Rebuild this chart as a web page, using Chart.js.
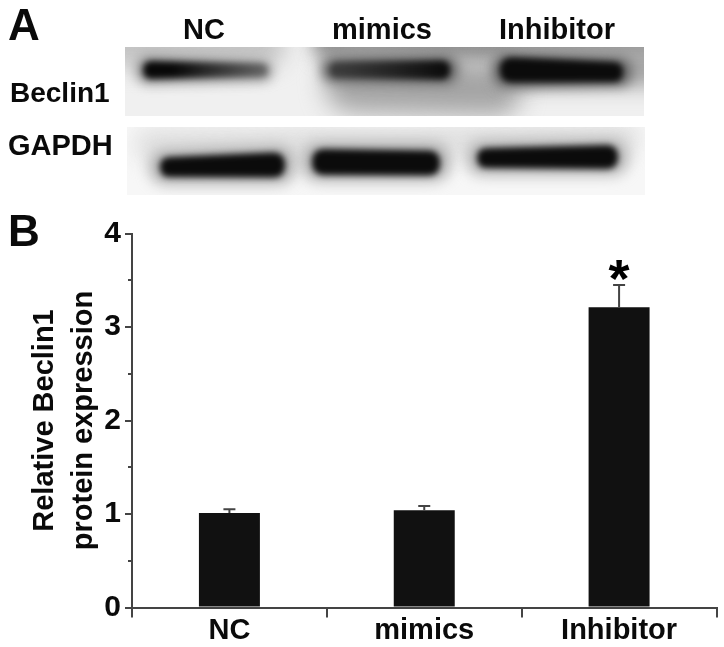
<!DOCTYPE html>
<html>
<head>
<meta charset="utf-8">
<title>Beclin1</title>
<script src="https://cdn.jsdelivr.net/npm/chart.js@4"></script>
<style>
body{margin:0;background:#fff;}
canvas{display:block;}
</style>
</head>
<body>
<canvas id="wykres" width="724" height="647"></canvas>
<script>
const categories = ["NC","mimics","Inhibitor"];
const expression = [1.01,1.04,3.21];
const errorTop = [1.05,1.085,3.45];
const significance = ["","","*"];
const yTickLabels = {0:"0",1:"1",2:"2",3:"3",4:"4"};
const yTitle = ["Relative Beclin1","protein expression"];
const blotLanes = ["NC","mimics","Inhibitor"];
const blotRows = ["Beclin1","GAPDH"];

const boldFont = "bold 29px 'Liberation Sans'";
const axisColor = "#444";

// soft blurred shape of the western blot, thickness changes from left to right
function band(ctx,x1,x2,yl,yr,hl,hr,fill,blur){
    ctx.save();
    ctx.filter = "blur("+blur+"px)";
    ctx.fillStyle = fill;
    ctx.beginPath();
    ctx.moveTo(x1+hl/2,yl-hl/2);
    ctx.lineTo(x2-hr/2,yr-hr/2);
    ctx.quadraticCurveTo(x2,yr-hr/2,x2,yr);
    ctx.quadraticCurveTo(x2,yr+hr/2,x2-hr/2,yr+hr/2);
    ctx.lineTo(x1+hl/2,yl+hl/2);
    ctx.quadraticCurveTo(x1,yl+hl/2,x1,yl);
    ctx.quadraticCurveTo(x1,yl-hl/2,x1+hl/2,yl-hl/2);
    ctx.fill();
    ctx.restore();
}

function fade(ctx,x1,x2,c1,c2,stop){
    const g = ctx.createLinearGradient(x1,0,x2,0);
    g.addColorStop(0,c1);
    g.addColorStop(stop,c1);
    g.addColorStop(1,c2);
    return g;
}

const blotPanel = {
    id:"blotPanel",
    beforeDraw(chart){
        const ctx = chart.ctx;
        ctx.save();
        ctx.fillStyle = "#fff";
        ctx.fillRect(0,0,724,647);

        // Beclin1 row
        ctx.save();
        ctx.beginPath();
        ctx.rect(125,47,519,69);
        ctx.clip();
        ctx.fillStyle = "#f0f0f0";
        ctx.fillRect(125,47,519,69);
        band(ctx,90,285,44,44,44,44,"#c2c2c2",11);
        band(ctx,312,680,38,38,48,48,"#8e8e8e",9);
        band(ctx,325,520,80,90,64,50,"#a4a4a4",12);
        band(ctx,500,680,66,66,42,42,"#a6a6a6",10);
        band(ctx,136,272,70,71,28,20,"#8f8f8f",6);
        band(ctx,322,458,70,70,24,28,"#666",6);
        band(ctx,492,632,71,72,34,28,"#666",6);
        band(ctx,143,267,70,70,18,12,fade(ctx,143,267,"#080808","#666",0.25),3);
        band(ctx,330,450,70,70,15,19,fade(ctx,330,450,"#3a3a3a","#0a0a0a",0.1),3);
        band(ctx,500,623,70,72,25,20,"#0b0b0b",3);
        ctx.restore();

        // GAPDH row
        ctx.save();
        ctx.beginPath();
        ctx.rect(127,127,518,68);
        ctx.clip();
        ctx.fillStyle = "#f7f7f7";
        ctx.fillRect(127,127,518,68);
        band(ctx,135,640,145,138,34,30,"#e0e0e0",10);
        band(ctx,150,295,167,165,34,38,"#ababab",7);
        band(ctx,302,450,162,162,38,38,"#ababab",7);
        band(ctx,467,628,158,157,34,36,"#b0b0b0",7);
        band(ctx,160,285,167,165,20,25,"#0b0b0b",3);
        band(ctx,312,440,162,163,26,25,"#0b0b0b",3);
        band(ctx,477,618,158,157,20,24,"#0b0b0b",3);
        ctx.restore();

        ctx.fillStyle = "#0a0a0a";
        ctx.font = "bold 44px 'Liberation Sans'";
        ctx.textAlign = "left";
        ctx.textBaseline = "alphabetic";
        ctx.fillText("A",8,40);
        ctx.fillText("B",8,246);

        ctx.font = boldFont;
        ctx.textAlign = "center";
        const laneX = [204,382,557];
        blotLanes.forEach((t,i)=>ctx.fillText(t,laneX[i],39));
        ctx.textAlign = "left";
        ctx.font = "bold 28px 'Liberation Sans'";
        ctx.fillText(blotRows[0],10,102);
        ctx.font = boldFont;
        ctx.fillText(blotRows[1],8,155);
        ctx.restore();
    },
    afterDatasetsDraw(chart){
        const ctx = chart.ctx;
        const x = chart.scales.x;
        const y = chart.scales.y;
        ctx.save();
        // short ticks at the half steps
        ctx.strokeStyle = axisColor;
        ctx.lineWidth = 2;
        y.ticks.forEach(t=>{
            if(Number.isInteger(t.value)) return;
            const py = Math.round(y.getPixelForValue(t.value));
            ctx.beginPath();
            ctx.moveTo(chart.chartArea.left-4,py);
            ctx.lineTo(chart.chartArea.left,py);
            ctx.stroke();
        });
        // error bars
        errorTop.forEach((v,i)=>{
            const px = x.getPixelForValue(i);
            const top = y.getPixelForValue(v);
            const base = y.getPixelForValue(expression[i]);
            ctx.beginPath();
            ctx.moveTo(px,base);
            ctx.lineTo(px,top);
            ctx.moveTo(px-6,top);
            ctx.lineTo(px+6,top);
            ctx.stroke();
            if(significance[i]){
                ctx.fillStyle = "#000";
                ctx.font = "bold 54px 'Liberation Sans'";
                ctx.textAlign = "center";
                ctx.textBaseline = "alphabetic";
                ctx.fillText(significance[i],px,top+12);
            }
        });
        ctx.restore();
    }
};

var wykresObiekt = document.getElementById("wykres").getContext("2d");
var wykres = new Chart(wykresObiekt,{
    type:"bar",
    data:{
        labels:categories,
        datasets:[{
            label:"Relative Beclin1 protein expression",
            data:expression,
            backgroundColor:"#111",
            barPercentage:0.313,
            categoryPercentage:1
        }]
    },
    options:{
        responsive:false,
        animation:false,
        layout:{padding:{top:233.5,right:7.5,bottom:0,left:0}},
        scales:{
            x:{
                afterFit(s){ s.height = 39.5; },
                grid:{drawOnChartArea:false,color:axisColor,lineWidth:2,tickLength:10},
                border:{color:axisColor,width:2},
                ticks:{color:"#0a0a0a",font:{family:"Liberation Sans",size:29,weight:"bold"},padding:-4,maxRotation:0}
            },
            y:{
                min:0,
                max:4,
                afterFit(s){ s.width = 132; },
                grid:{
                    drawOnChartArea:false,
                    tickLength:7,
                    lineWidth:2,
                    color:axisColor,
                    tickColor:c=>Number.isInteger(c.tick.value)?axisColor:"rgba(0,0,0,0)"
                },
                border:{color:axisColor,width:2},
                ticks:{
                    stepSize:0.5,
                    autoSkip:false,
                    color:"#0a0a0a",
                    padding:4,
                    font:{family:"Liberation Sans",size:30,weight:"bold"},
                    callback:v=>yTickLabels[v]||""
                },
                title:{
                    display:true,
                    text:yTitle,
                    color:"#0a0a0a",
                    font:{family:"Liberation Sans",size:29,weight:"bold",lineHeight:1.35},
                    padding:{top:25,bottom:0}
                }
            }
        },
        plugins:{legend:{display:false},tooltip:{enabled:false}}
    },
    plugins:[blotPanel]
});
</script>
</body>
</html>
